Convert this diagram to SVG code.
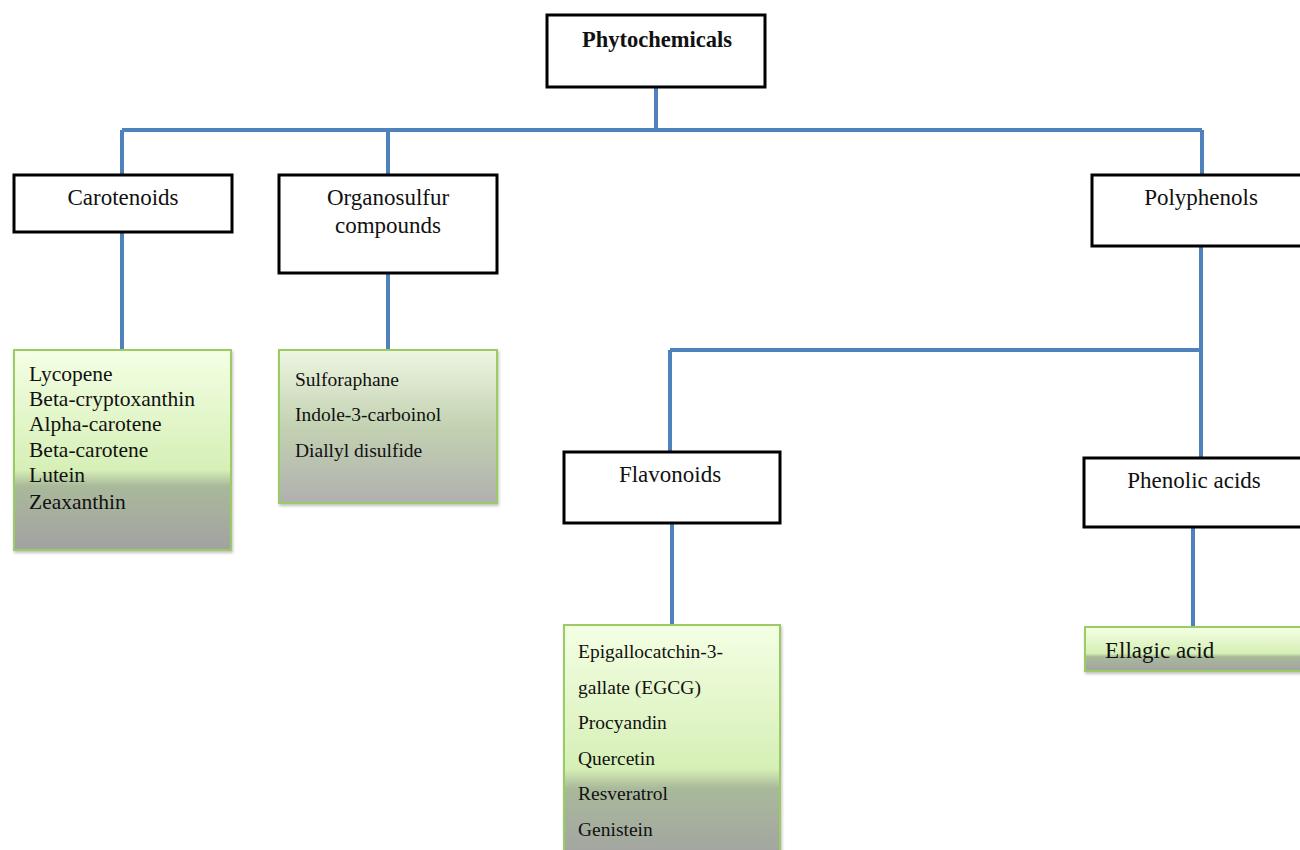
<svg xmlns="http://www.w3.org/2000/svg" width="1300" height="850" viewBox="0 0 1300 850">
<defs>
<linearGradient id="g1" x1="0" y1="0" x2="0" y2="1">
<stop offset="0" stop-color="#f4ffe4"/>
<stop offset="0.6" stop-color="#d6efb6"/>
<stop offset="0.68" stop-color="#a9b99a"/>
<stop offset="1" stop-color="#a2a2a2"/>
</linearGradient>
<linearGradient id="g2" x1="0" y1="0" x2="0" y2="1">
<stop offset="0" stop-color="#eef6e2"/>
<stop offset="0.5" stop-color="#c3d2b2"/>
<stop offset="1" stop-color="#b0b0ae"/>
</linearGradient>
<filter id="sh" x="-5%" y="-5%" width="110%" height="115%">
<feDropShadow dx="1" dy="2" stdDeviation="1.5" flood-color="#000" flood-opacity="0.25"/>
</filter>
<style>
.hdr{fill:#fff;stroke:#000;stroke-width:3}
.lst{stroke:#9bcb63;stroke-width:2;filter:url(#sh)}
.t{font-family:"Liberation Serif","Times New Roman",serif;fill:#111}
.c{stroke:#4f81bd;stroke-width:4;fill:none}
</style>
</defs>
<rect width="1300" height="850" fill="#fff"/>
<g id="connectors">
<path class="c" d="M656 87V130M122 130H1202M122 130V175M388 130V175M1202 130V175"/>
<path class="c" d="M122 232V350M388 273V350M1201 246V350M670 350H1201M670 350V452M1201 350V458"/>
<path class="c" d="M672 523V625M1193 527V627"/>
</g>
<g id="phytochemicals">
<rect class="hdr" x="547" y="15" width="218" height="72"/>
<text class="t" x="657" y="47" font-size="22.5" font-weight="bold" text-anchor="middle">Phytochemicals</text>
</g>
<g id="carotenoids">
<rect class="hdr" x="14" y="175" width="218" height="57"/>
<text class="t" x="123" y="205" font-size="23" text-anchor="middle">Carotenoids</text>
</g>
<g id="organosulfur">
<rect class="hdr" x="279" y="175" width="218" height="98"/>
<text class="t" x="388" y="205" font-size="23" text-anchor="middle">Organosulfur</text>
<text class="t" x="388" y="233" font-size="23" text-anchor="middle">compounds</text>
</g>
<g id="polyphenols">
<rect class="hdr" x="1092" y="175" width="220" height="71"/>
<text class="t" x="1201" y="205" font-size="23" text-anchor="middle">Polyphenols</text>
</g>
<g id="flavonoids">
<rect class="hdr" x="564" y="452" width="216" height="71"/>
<text class="t" x="670" y="482" font-size="23" text-anchor="middle">Flavonoids</text>
</g>
<g id="phenolic-acids">
<rect class="hdr" x="1084" y="458" width="228" height="69"/>
<text class="t" x="1194" y="488" font-size="23" text-anchor="middle">Phenolic acids</text>
</g>
<g id="carotenoid-list">
<rect class="lst" x="14" y="350" width="217" height="200" fill="url(#g1)"/>
<g class="t" font-size="21.5">
<text x="29" y="381">Lycopene</text>
<text x="29" y="406">Beta-cryptoxanthin</text>
<text x="29" y="431">Alpha-carotene</text>
<text x="29" y="457">Beta-carotene</text>
<text x="29" y="482">Lutein</text>
<text x="29" y="509">Zeaxanthin</text>
</g>
</g>
<g id="organosulfur-list">
<rect class="lst" x="279" y="350" width="218" height="153" fill="url(#g2)"/>
<g class="t" font-size="19.5">
<text x="295" y="386">Sulforaphane</text>
<text x="295" y="421">Indole-3-carboinol</text>
<text x="295" y="457">Diallyl disulfide</text>
</g>
</g>
<g id="flavonoid-list">
<rect class="lst" x="564" y="625" width="216" height="240" fill="url(#g1)"/>
<g class="t" font-size="19.5">
<text x="578" y="658">Epigallocatchin-3-</text>
<text x="578" y="694">gallate (EGCG)</text>
<text x="578" y="729">Procyandin</text>
<text x="578" y="765">Quercetin</text>
<text x="578" y="800">Resveratrol</text>
<text x="578" y="836">Genistein</text>
</g>
</g>
<g id="phenolic-list">
<rect class="lst" x="1085" y="627" width="230" height="44" fill="url(#g1)"/>
<text class="t" x="1105" y="658" font-size="23" font-family="Liberation Serif, serif">Ellagic acid</text>
</g>
</svg>
